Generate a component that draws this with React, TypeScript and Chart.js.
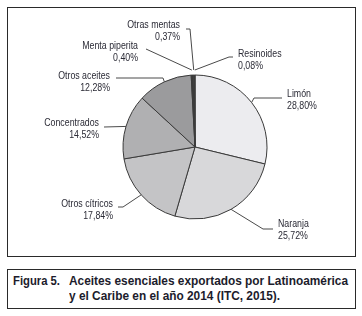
import React, { useEffect, useLayoutEffect, useRef } from "react";
import { Chart, registerables } from "chart.js";

Chart.register(...registerables);

const categories = [
  "Limón",
  "Naranja",
  "Otros cítricos",
  "Concentrados",
  "Otros aceites",
  "Menta piperita",
  "Otras mentas",
  "Resinoides",
];
const shares = [28.8, 25.72, 17.84, 14.52, 12.28, 0.4, 0.37, 0.08];
const sliceColors = [
  "#ececef",
  "#d8d8da",
  "#c4c4c6",
  "#b0b0b2",
  "#9b9b9d",
  "#3a3a3a",
  "#444444",
  "#5a5a5a",
];

const captionLabel = "Figura 5.";
const captionLine1 = "Aceites esenciales exportados por Latinoamérica";
const captionLine2 = "y el Caribe en el año 2014 (ITC, 2015).";

type LabelLayout = {
  align: "left" | "right";
  x: number;
  y: number;
  path: number[][];
  ext: number;
};

// label placement (page coordinates) – layout only, not data
const labelLayout: LabelLayout[] = [
  { align: "left", x: 287, y: 94, path: [[282, 98], [254, 98]], ext: 0 },
  { align: "left", x: 278, y: 224, path: [[273, 229], [263, 229]], ext: 0 },
  { align: "right", x: 113, y: 204, path: [[118, 207], [123, 207]], ext: 0 },
  { align: "right", x: 99, y: 123, path: [[104, 127]], ext: 0 },
  { align: "right", x: 110, y: 76, path: [[116, 78], [163, 78]], ext: 0 },
  { align: "right", x: 138, y: 46, path: [[146, 49]], ext: 5 },
  { align: "right", x: 180, y: 25, path: [[186, 29], [190, 29]], ext: 5 },
  { align: "left", x: 238, y: 54, path: [[233, 57], [229, 57]], ext: 5 },
];

const LABEL_FONT = '11px "Liberation Sans", Arial, sans-serif';
const NARROW = 0.8;

const fmt = (v: number) => v.toFixed(2).replace(".", ",") + "%";

const leaderPlugin = {
  id: "leaderLabels",
  afterDatasetsDraw(chart: any) {
    const ctx: CanvasRenderingContext2D = chart.ctx;
    const meta = chart.getDatasetMeta(0);
    ctx.save();
    meta.data.forEach((arc: any, i: number) => {
      const lay = labelLayout[i];
      if (!lay) return;
      const p = arc.getProps(["x", "y", "startAngle", "endAngle", "outerRadius"], true);
      const mid = (p.startAngle + p.endAngle) / 2;
      const r = p.outerRadius + lay.ext;
      const ex = p.x + Math.cos(mid) * r;
      const ey = p.y + Math.sin(mid) * r;
      ctx.strokeStyle = "#4a4a4a";
      ctx.lineWidth = 1;
      ctx.beginPath();
      lay.path.forEach((pt, k) => {
        if (k === 0) ctx.moveTo(pt[0], pt[1]);
        else ctx.lineTo(pt[0], pt[1]);
      });
      ctx.lineTo(ex, ey);
      ctx.stroke();

      ctx.save();
      ctx.fillStyle = "#2b2b36";
      ctx.font = LABEL_FONT;
      ctx.textBaseline = "middle";
      ctx.textAlign = lay.align;
      ctx.translate(lay.x, lay.y);
      ctx.scale(NARROW, 1);
      ctx.fillText(categories[i], 0, 0);
      ctx.fillText(fmt(shares[i]), 0, 11.5);
      ctx.restore();
    });
    ctx.restore();
  },
};

export default function App() {
  const ref = useRef<HTMLCanvasElement | null>(null);
  const s0 = useRef<HTMLSpanElement | null>(null);
  const s1 = useRef<HTMLSpanElement | null>(null);
  const s2 = useRef<HTMLSpanElement | null>(null);

  useLayoutEffect(() => {
    const fit = (el: HTMLSpanElement | null, target: number) => {
      if (!el) return;
      const w = el.getBoundingClientRect().width;
      if (w > 0) el.style.transform = `scaleX(${target / w})`;
    };
    fit(s0.current, 47);
    fit(s1.current, 279);
    fit(s2.current, 211);
  }, []);

  useEffect(() => {
    if (!ref.current) return;
    const chart = new Chart(ref.current, {
      type: "pie",
      data: {
        labels: categories,
        datasets: [
          {
            data: shares,
            backgroundColor: sliceColors,
            borderColor: "#3a3a3a",
            borderWidth: 1,
            hoverOffset: 0,
          },
        ],
      },
      options: {
        responsive: false,
        animation: false,
        events: [],
        layout: {
          padding: { left: 122.5, right: 94.5, top: 74.5, bottom: 42.5 },
        },
        plugins: {
          legend: { display: false },
          tooltip: { enabled: false },
        },
      },
      plugins: [leaderPlugin],
    });
    return () => chart.destroy();
  }, []);

  const capStyle: React.CSSProperties = {
    position: "absolute",
    display: "inline-block",
    whiteSpace: "nowrap",
    transformOrigin: "0 50%",
    fontFamily: '"Liberation Sans", Arial, sans-serif',
    fontWeight: "bold",
    fontSize: 12.5,
    lineHeight: "15px",
    color: "#1c1c2c",
  };

  return (
    <div
      style={{
        position: "absolute",
        left: 0,
        top: 0,
        width: 362,
        height: 316,
        background: "#ffffff",
        overflow: "hidden",
      }}
    >
      <div
        style={{
          position: "absolute",
          left: 7,
          top: 7,
          width: 347,
          height: 248,
          border: "1px solid #2a2a2a",
        }}
      />
      <canvas
        ref={ref}
        width={362}
        height={262}
        style={{ position: "absolute", left: 0, top: 0, width: 362, height: 262 }}
      />
      <div
        style={{
          position: "absolute",
          left: 7,
          top: 269,
          width: 347,
          height: 38,
          border: "1px solid #2a2a2a",
        }}
      />
      <span ref={s0} style={{ ...capStyle, left: 13, top: 273.5 }}>
        {captionLabel}
      </span>
      <span ref={s1} style={{ ...capStyle, left: 69, top: 273.5 }}>
        {captionLine1}
      </span>
      <span ref={s2} style={{ ...capStyle, left: 69, top: 288.5 }}>
        {captionLine2}
      </span>
    </div>
  );
}
